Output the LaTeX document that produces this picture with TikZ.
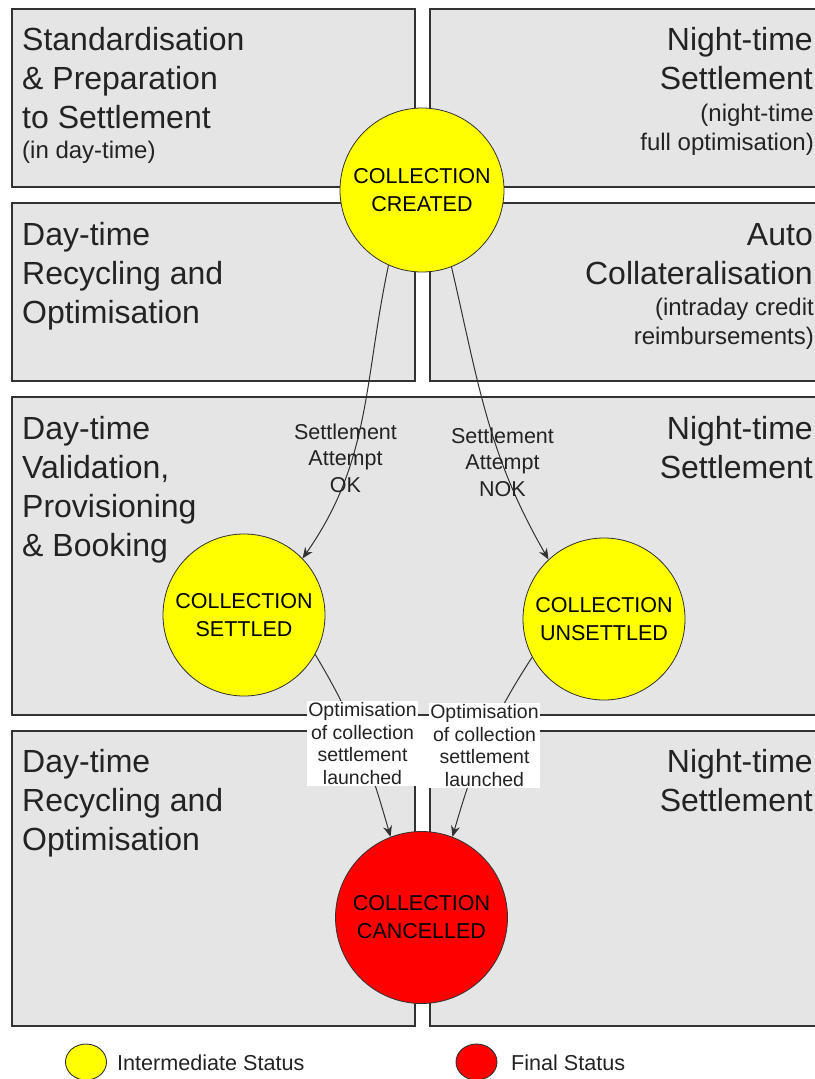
\documentclass[tikz,border=0pt]{standalone}
\usepackage{fontspec}
\setmainfont{Liberation Sans}
\usetikzlibrary{arrows.meta,shapes.geometric}
\definecolor{boxgray}{RGB}{229,229,229}
\definecolor{edgegray}{RGB}{50,50,50}
\definecolor{txt}{RGB}{35,35,35}
\definecolor{stYellow}{RGB}{255,255,0}
\definecolor{stRed}{RGB}{255,0,0}
\begin{document}
\begin{tikzpicture}[x=1pt,y=-1pt,
  panel/.style={draw=edgegray, fill=boxgray, line width=1.3pt},
  bigtxt/.style={font=\fontsize{32}{39.3}\selectfont, text=txt, inner sep=0pt},
  smalltxt/.style={font=\fontsize{24}{29}\selectfont, text=txt, inner sep=0pt},
  leftblk/.style={anchor=base west, align=left},
  rightblk/.style={anchor=base east, align=right},
  status/.style={circle, draw=edgegray, line width=0.8pt, inner sep=0pt, align=center,
    font=\fontsize{21.5}{28}\selectfont, text=black},
  conn/.style={draw=edgegray, line width=1pt, -{Stealth[length=11pt,width=9pt]}},
  attl/.style={align=center, anchor=base, inner sep=0pt, text=txt,
    font=\fontsize{21.5}{26.5}\selectfont},
  optl/.style={align=center, fill=white, inner xsep=1pt, inner ysep=2pt, text=txt,
    font=\fontsize{19.5}{22.5}\selectfont},
  legmark/.style={ellipse, draw=edgegray, line width=0.9pt, minimum width=41pt, minimum height=36pt, inner sep=0pt},
  legtxt/.style={anchor=base west, inner sep=0pt, text=txt, font=\fontsize{21.6}{26}\selectfont}
]
\useasboundingbox (0,0) rectangle (814,1079);
\fill[white] (0,0) rectangle (814,1079);

% panels
\draw[panel] (12,9) rectangle (415,187);
\draw[panel] (430,9) rectangle (830,187);
\draw[panel] (12,203) rectangle (415,381);
\draw[panel] (430,203) rectangle (830,381);
\draw[panel] (12,397) rectangle (830,715);
\draw[panel] (12,731) rectangle (415,1026);
\draw[panel] (430,731) rectangle (830,1026);

% panel texts (anchor = baseline of the last line)
\node[bigtxt, leftblk] (t1l) at (22,128.6) {Standardisation\\\& Preparation\\to Settlement};
\node[smalltxt, leftblk] (t1ls) at (22,158) {(in day-time)};
\node[bigtxt, rightblk] (t1r) at (813,89.3) {Night-time\\Settlement};
\node[smalltxt, rightblk] (t1rs) at (814,150) {(night-time\\full optimisation)};

\node[bigtxt, leftblk] (t2l) at (22,323.6) {Day-time\\Recycling and\\Optimisation};
\node[bigtxt, rightblk] (t2r) at (813,284.3) {Auto\\Collateralisation};
\node[smalltxt, rightblk] (t2rs) at (814,344) {(intraday credit\\reimbursements)};

\node[bigtxt, leftblk] (t3l) at (22,556.9) {Day-time\\Validation,\\Provisioning\\\& Booking};
\node[bigtxt, rightblk] (t3r) at (813,478.3) {Night-time\\Settlement};

\node[bigtxt, leftblk] (t4l) at (22,850.6) {Day-time\\Recycling and\\Optimisation};
\node[bigtxt, rightblk] (t4r) at (813,811.3) {Night-time\\Settlement};

% status circles
\node[status, fill=stYellow, minimum size=164pt] (created) at (422,190) {COLLECTION\\CREATED};
\node[status, fill=stYellow, minimum size=162pt] (settled) at (244,615) {COLLECTION\\SETTLED};
\node[status, fill=stYellow, minimum size=162pt] (unsettled) at (604,619) {COLLECTION\\UNSETTLED};
\node[status, fill=stRed, minimum size=172pt] (cancelled) at (421.5,917.5) {COLLECTION\\CANCELLED};

% connectors
\draw[conn] (created.-114) to[out=-102,in=55] (settled.44);
\draw[conn] (created.-69) to[out=-77,in=120] (unsettled.133);
\draw[conn] (settled.-29) to[out=-59,in=106] (cancelled.111);
\draw[conn] (unsettled.208) to[out=-123,in=74] (cancelled.69);

% connector labels
\node[attl] (okl) at (345.5,492) {Settlement\\Attempt\\OK};
\node[attl] (nokl) at (502.5,496) {Settlement\\Attempt\\NOK};
\node[optl] (opt1) at (362.5,743.5) {Optimisation\\of collection\\settlement\\launched};
\node[optl] (opt2) at (484.5,745.5) {Optimisation\\of collection\\settlement\\launched};

% legend
\node[legmark, fill=stYellow] (legy) at (86,1062) {};
\node[legtxt] (legyt) at (117,1070) {Intermediate Status};
\node[legmark, fill=stRed] (legr) at (476.5,1062) {};
\node[legtxt] (legrt) at (511,1070) {Final Status};
\end{tikzpicture}
\end{document}
